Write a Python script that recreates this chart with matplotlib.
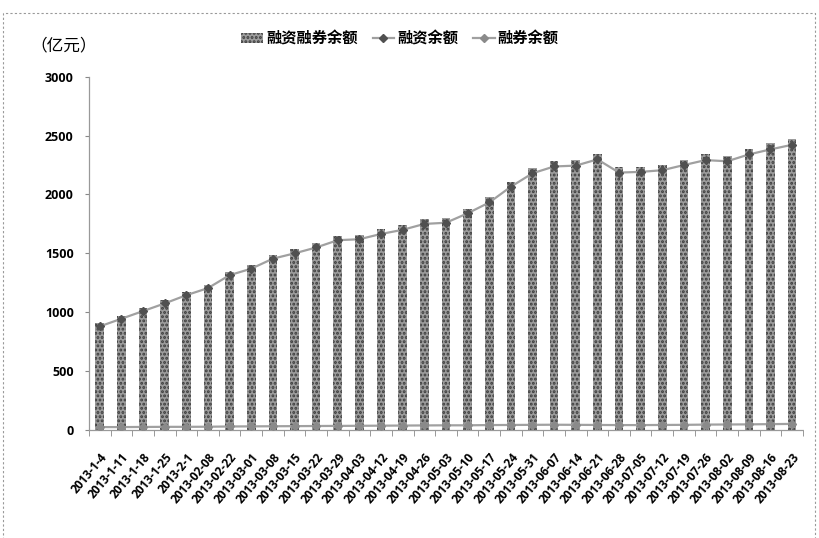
import matplotlib
matplotlib.use("Agg")
import matplotlib.pyplot as plt
from matplotlib.patches import Rectangle
import numpy as np

plt.rcParams["font.family"] = ["Noto Sans CJK SC", "DejaVu Sans"]
plt.rcParams["hatch.linewidth"] = 1.4

dates = ["2013-1-4", "2013-1-11", "2013-1-18", "2013-1-25", "2013-2-1",
         "2013-02-08", "2013-02-22", "2013-03-01", "2013-03-08", "2013-03-15",
         "2013-03-22", "2013-03-29", "2013-04-03", "2013-04-12", "2013-04-19",
         "2013-04-26", "2013-05-03", "2013-05-10", "2013-05-17", "2013-05-24",
         "2013-05-31", "2013-06-07", "2013-06-14", "2013-06-21", "2013-06-28",
         "2013-07-05", "2013-07-12", "2013-07-19", "2013-07-26", "2013-08-02",
         "2013-08-09", "2013-08-16", "2013-08-23"]

# 融资融券余额 (bars)
total = [905, 970, 1035, 1100, 1170, 1235, 1345, 1400, 1490, 1535,
         1585, 1650, 1660, 1705, 1740, 1790, 1800, 1880, 1975, 2110,
         2225, 2285, 2290, 2345, 2230, 2235, 2250, 2295, 2340, 2330,
         2390, 2435, 2475]
# 融资余额 (line)
finance = [880, 945, 1010, 1075, 1145, 1205, 1315, 1370, 1455, 1500,
           1550, 1612, 1620, 1665, 1700, 1750, 1760, 1840, 1932, 2066,
           2180, 2238, 2245, 2298, 2186, 2192, 2206, 2250, 2292, 2282,
           2340, 2383, 2422]
# 融券余额 (line)
short = [25, 25, 26, 27, 27, 28, 30, 31, 32, 33,
         34, 35, 36, 37, 38, 39, 40, 40, 42, 43,
         44, 45, 44, 43, 42, 42, 43, 44, 46, 47,
         48, 50, 52]

x = np.arange(len(dates))
tick_font = ["Open Sans", "DejaVu Sans"]

fig = plt.figure(figsize=(8.2, 5.38), dpi=100)
ax = fig.add_axes([0.1085, 0.2007, 0.8707, 0.6567])

b = ax.bar(x, total, width=0.4, facecolor="#9c9c9c", edgecolor="#3c3c3c",
           hatch="....", linewidth=0, label="融资融券余额", zorder=2)
l1, = ax.plot(x, finance, color="#a0a0a0", lw=1.6, marker="D", ms=4.5,
              mfc="#505050", mec="#505050", label="融资余额", zorder=3)
l2, = ax.plot(x, short, color="#a0a0a0", lw=1.6, marker="D", ms=4,
              mfc="#8a8a8a", mec="#8a8a8a", label="融券余额", zorder=3)

ax.set_xlim(-0.5, len(dates) - 0.5)
ax.set_ylim(0, 3000)
ax.set_yticks(np.arange(0, 3001, 500))
ax.tick_params(axis="y", labelsize=9, length=3, color="#888888", pad=8)
for t in ax.get_yticklabels():
    t.set_fontweight("bold")
    t.set_family(tick_font)

ax.set_xticks(x)
ax.set_xticklabels(dates, rotation=50, ha="right", rotation_mode="anchor",
                   fontsize=8.5, fontweight="bold", family=tick_font)
ax.tick_params(axis="x", which="major", length=0, pad=15)
ax.set_xticks(np.arange(-0.5, len(dates)), minor=True)
ax.tick_params(axis="x", which="minor", length=4, color="#888888")

for s in ["top", "right"]:
    ax.spines[s].set_visible(False)
for s in ["left", "bottom"]:
    ax.spines[s].set_color("#999999")
    ax.spines[s].set_linestyle((0, (1, 1)))
    ax.spines[s].set_linewidth(0.9)

fig.text(0.037, 0.915, "（亿元）", fontsize=12, ha="left", va="center")

leg = fig.legend([b, l1, l2], ["融资融券余额", "融资余额", "融券余额"],
                 loc="center", bbox_to_anchor=(0.488, 0.929), ncol=3,
                 frameon=False, fontsize=11, handlelength=1.4,
                 handletextpad=0.2, columnspacing=1.0)
for t in leg.get_texts():
    t.set_fontweight("bold")

border = Rectangle((0.004, -0.05), 0.99, 1.026, transform=fig.transFigure,
                   fill=False, edgecolor="#999999", linestyle=(0, (2, 2)),
                   linewidth=0.8)
fig.patches.append(border)

fig.savefig("out.png", dpi=100)
